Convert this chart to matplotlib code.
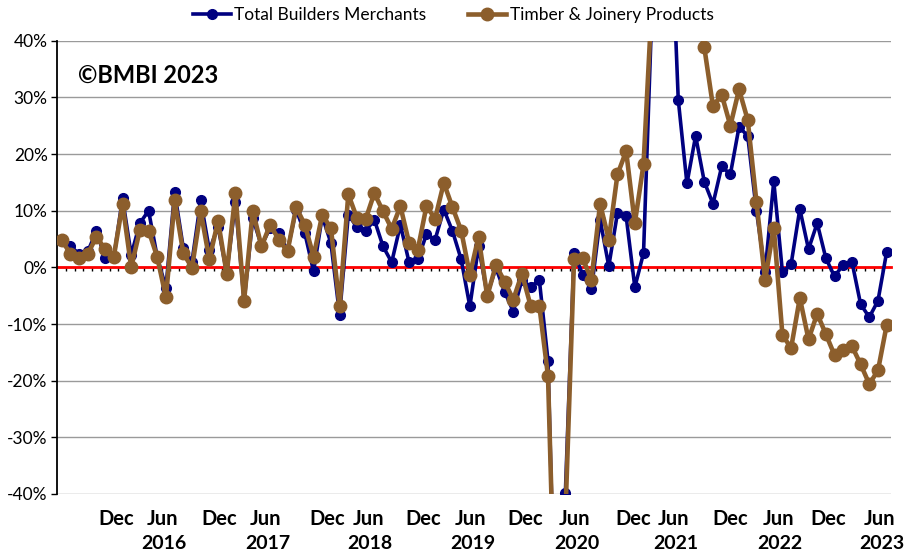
import matplotlib
matplotlib.use("Agg")
import matplotlib.pyplot as plt
import numpy as np
from matplotlib.ticker import FixedLocator, NullFormatter

# ---------------- data (monthly, Jul 2015 .. Jun 2023, YoY % change) ----------------
total_bm = [
    4.7, 3.7, 2.4, 2.8, 6.4, 1.6, 1.8, 12.2, 2.2, 7.8, 10.0, 1.8,        # Jul15-Jun16
    -3.6, 13.3, 3.4, 1.0, 11.8, 3.0, 7.2, -1.0, 11.5, -6.0, 8.7, 3.8,    # Jul16-Jun17
    7.0, 6.0, 3.0, 10.2, 6.0, -0.7, 9.0, 4.3, -8.4, 9.3, 7.1, 6.4,       # Jul17-Jun18
    8.4, 3.7, 0.9, 7.5, 0.9, 1.4, 5.8, 4.9, 10.2, 6.4, 1.4, -6.9,        # Jul18-Jun19
    3.7, -4.8, -0.1, -4.3, -7.8, -2.2, -3.5, -2.2, -16.5, -75.0, -39.8, 2.5,  # Jul19-Jun20
    -1.3, -3.9, 8.4, 0.2, 9.6, 9.0, -3.5, 2.5, 47.0, 150.0, 68.0, 29.6,  # Jul20-Jun21
    14.8, 23.2, 15.1, 11.2, 17.8, 16.4, 24.8, 23.2, 10.0, -0.8, 15.2, -0.9,  # Jul21-Jun22
    0.6, 10.3, 3.2, 7.8, 1.6, -1.6, 0.5, 1.0, -6.5, -8.8, -5.9, 2.7,     # Jul22-Jun23
]
timber = [
    4.8, 2.4, 1.6, 2.4, 5.4, 3.2, 1.9, 11.2, 0.0, 6.6, 6.5, 1.8,
    -5.3, 11.8, 2.5, -0.1, 9.9, 1.4, 8.2, -1.1, 13.1, -5.9, 10.0, 3.7,
    7.5, 4.9, 2.8, 10.6, 7.5, 1.9, 9.3, 6.9, -6.9, 12.9, 8.7, 8.5,
    13.1, 9.9, 6.8, 10.8, 4.3, 3.1, 10.8, 8.6, 14.9, 10.6, 6.5, -1.3,
    5.4, -5.1, 0.4, -2.5, -5.7, -1.1, -6.8, -6.8, -19.2, -73.0, -44.0, 1.4,
    1.6, -2.2, 11.2, 4.9, 16.4, 20.5, 7.8, 18.2, 48.0, 170.0, 110.0, 75.0,
    55.0, 46.0, 38.8, 28.4, 30.5, 25.0, 31.4, 26.0, 11.6, -2.2, 7.0, -12.0,
    -14.2, -5.4, -12.7, -8.2, -11.8, -15.5, -14.5, -13.9, -17.1, -20.6, -18.2, -10.2,
]
series_names = ["Total Builders Merchants", "Timber & Joinery Products"]
dec_labels = ["Dec"] * 8
jun_labels = ["Jun"] * 8
year_labels = ["2016", "2017", "2018", "2019", "2020", "2021", "2022", "2023"]
# label anchor positions (category units) as laid out in the original
dec_pos = [6.25, 18.1, 30.6, 41.6, 53.4, 65.8, 77.0, 88.3]
jun_pos = [11.55, 23.5, 35.3, 47.1, 59.1, 70.5, 82.5, 94.2]
y_ticks = [-40, -30, -20, -10, 0, 10, 20, 30, 40]

# ---------------- figure ----------------
plt.rcParams['font.family'] = ['Lato', 'DejaVu Sans']
W, H = 908, 554
fig = plt.figure(figsize=(W / 100, H / 100), dpi=100)
ax = fig.add_axes([57.4 / W, (H - 494) / H, (891 - 57.4) / W, (494 - 40.7) / H])

x = np.arange(len(total_bm))
blue = "#000080"
brown = "#8C5E2C"

ax.plot(x, total_bm, color=blue, lw=2.6, marker="o", ms=7, mfc=blue, mec=blue,
        label=series_names[0], zorder=3, solid_joinstyle="round")
ax.plot(x, timber, color=brown, lw=3.3, marker="o", ms=9, mfc=brown, mec=brown,
        label=series_names[1], zorder=4, solid_joinstyle="round")

ax.set_xlim(-0.5, len(x) - 0.5)
ax.set_ylim(-40, 40)

# y axis
ax.yaxis.set_major_locator(FixedLocator(y_ticks))
ax.set_yticklabels([f"{v}%" for v in y_ticks])
ax.tick_params(axis="y", direction="out", length=4, width=1, color="black",
               labelsize=12.5, pad=3)
ax.grid(axis="y", color="#9a9a9a", lw=1.0, zorder=0)
ax.set_axisbelow(True)

# spines
for s in ("top", "right"):
    ax.spines[s].set_visible(False)
ax.spines["left"].set_color("black")
ax.spines["left"].set_linewidth(1.3)
ax.spines["bottom"].set_position(("data", 0))
ax.spines["bottom"].set_color("red")
ax.spines["bottom"].set_linewidth(2.0)
ax.spines["bottom"].set_zorder(2)

# x ticks at category boundaries, labels drawn separately at the bottom
ax.xaxis.set_major_locator(FixedLocator(np.arange(0.5, len(x) - 0.5, 1.0)))
ax.xaxis.set_major_formatter(NullFormatter())
ax.tick_params(axis="x", direction="out", length=3, width=1, color="black")

trans = ax.get_xaxis_transform()
for p, lab in zip(dec_pos, dec_labels):
    ax.text(p, -0.055, lab, transform=trans, ha="center", va="center",
            fontsize=14.5, fontweight="bold", clip_on=False)
for p, lab, yr in zip(jun_pos, jun_labels, year_labels):
    ax.text(p, -0.055, lab, transform=trans, ha="center", va="center",
            fontsize=14.5, fontweight="bold", clip_on=False)
    ax.text(p + 0.2, -0.11, yr, transform=trans, ha="center", va="center",
            fontsize=14, fontweight="bold", clip_on=False)

# copyright
fig.text(78 / W, 1 - 75 / H, "©BMBI 2023", fontsize=17, fontweight="bold",
         ha="left", va="center")

# legend
fig.legend(loc="center", bbox_to_anchor=(0.499, 1 - 15 / H), ncol=2, frameon=False,
           fontsize=12.5, handlelength=2.2, handletextpad=0.2, columnspacing=2.4,
           borderaxespad=0)

fig.savefig("out.png", dpi=100)
